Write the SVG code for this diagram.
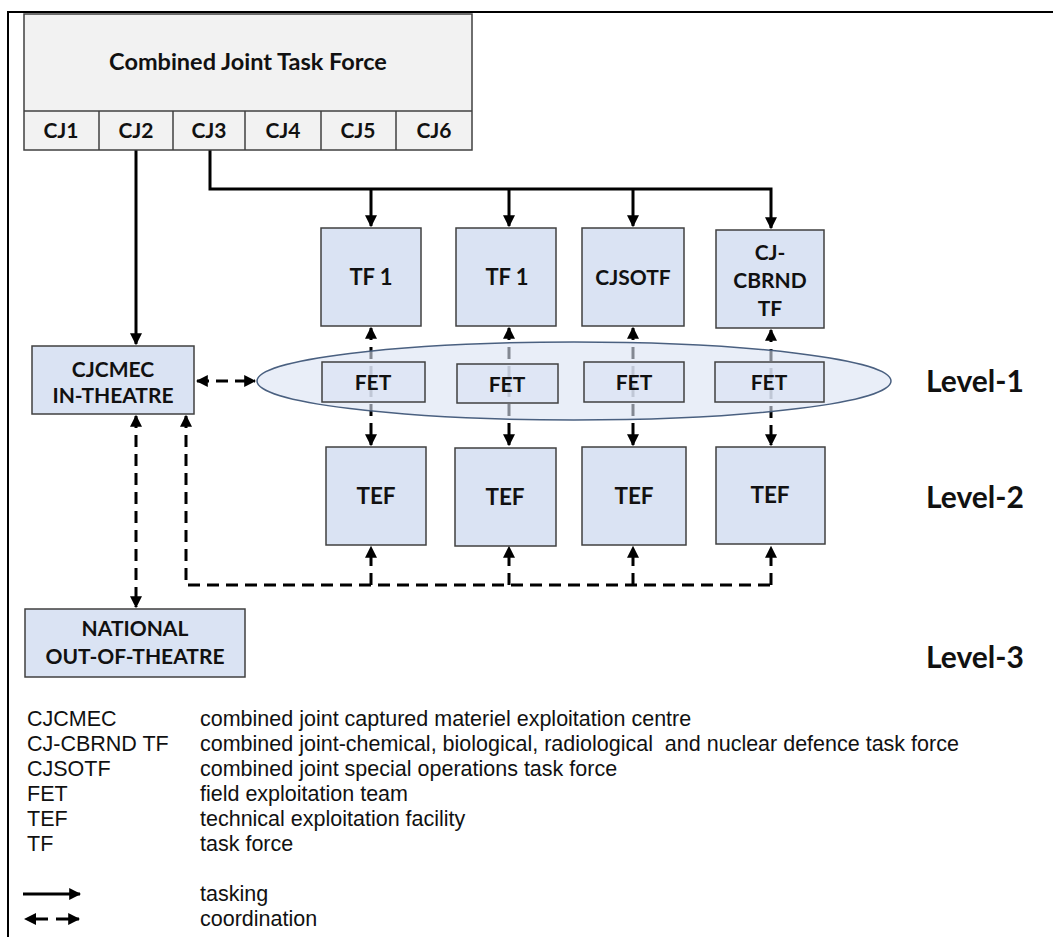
<svg xmlns="http://www.w3.org/2000/svg" width="1053" height="937" viewBox="0 0 1053 937">
<style>
.box{fill:#dae3f3;stroke:#404040;stroke-width:1.5}
.hq{fill:#f2f2f2;stroke:#404040;stroke-width:1.5}
.lbl{font-family:Lato,"Open Sans",sans-serif;font-weight:700;font-size:21px;fill:#111;text-anchor:middle}
.lvl{font-family:Lato,"Open Sans",sans-serif;font-weight:700;font-size:30px;fill:#111}
.leg{font-family:"Liberation Sans",Arial,sans-serif;font-size:21.5px;fill:#111}
.solid{fill:none;stroke:#000;stroke-width:3}
.dash{fill:none;stroke:#000;stroke-width:3;stroke-dasharray:12 7}
</style>
<defs>
<marker id="ah" viewBox="0 0 10 10" refX="9" refY="5" markerWidth="12" markerHeight="12" markerUnits="userSpaceOnUse" orient="auto-start-reverse">
<path d="M0,0 L10,5 L0,10 z" fill="#000"/>
</marker>
</defs>
<rect width="1053" height="937" fill="#fff"/>
<path d="M8,937 V12 H1053" fill="none" stroke="#000" stroke-width="2"/>

<g id="connectors">
<path class="solid" d="M136,150 V344" marker-end="url(#ah)"/>
<path class="solid" d="M210,150 V189 H771 V228" marker-end="url(#ah)"/>
<path class="solid" d="M371,189 V226" marker-end="url(#ah)"/>
<path class="solid" d="M509,189 V226" marker-end="url(#ah)"/>
<path class="solid" d="M633,189 V226" marker-end="url(#ah)"/>
<path class="dash" d="M371,328 V445" marker-start="url(#ah)" marker-end="url(#ah)"/>
<path class="dash" d="M509,328 V445" marker-start="url(#ah)" marker-end="url(#ah)"/>
<path class="dash" d="M633,328 V445" marker-start="url(#ah)" marker-end="url(#ah)"/>
<path class="dash" d="M771,330 V445" marker-start="url(#ah)" marker-end="url(#ah)"/>
<path class="dash" d="M197,381 H255" marker-start="url(#ah)" marker-end="url(#ah)"/>
<path class="dash" d="M136,416 V607" marker-start="url(#ah)" marker-end="url(#ah)"/>
<path class="dash" d="M186,416 V585 H771" marker-start="url(#ah)"/>
<path class="dash" d="M371,585 V547" marker-end="url(#ah)"/>
<path class="dash" d="M509,585 V547" marker-end="url(#ah)"/>
<path class="dash" d="M633,585 V547" marker-end="url(#ah)"/>
<path class="dash" d="M771,585 V547" marker-end="url(#ah)"/>
</g>

<g id="cjtf">
<rect class="hq" x="24" y="14" width="448" height="136"/>
<line x1="24" y1="111" x2="472" y2="111" stroke="#404040" stroke-width="1.5"/>
<line x1="99" y1="111" x2="99" y2="150" stroke="#404040" stroke-width="1.5"/>
<line x1="173" y1="111" x2="173" y2="150" stroke="#404040" stroke-width="1.5"/>
<line x1="245" y1="111" x2="245" y2="150" stroke="#404040" stroke-width="1.5"/>
<line x1="321" y1="111" x2="321" y2="150" stroke="#404040" stroke-width="1.5"/>
<line x1="396" y1="111" x2="396" y2="150" stroke="#404040" stroke-width="1.5"/>
<text class="lbl" x="248" y="70" style="font-size:23.5px">Combined Joint Task Force</text>
<text class="lbl" x="61" y="138">CJ1</text>
<text class="lbl" x="136" y="138">CJ2</text>
<text class="lbl" x="209" y="138">CJ3</text>
<text class="lbl" x="283" y="138">CJ4</text>
<text class="lbl" x="358" y="138">CJ5</text>
<text class="lbl" x="434" y="138">CJ6</text>
</g>

<g id="tf1a"><rect class="box" x="321" y="228" width="100" height="98"/><text class="lbl" x="371" y="285" style="font-size:22px">TF 1</text></g>
<g id="tf1b"><rect class="box" x="456" y="228" width="100" height="98"/><text class="lbl" x="507" y="285" style="font-size:22px">TF 1</text></g>
<g id="cjsotf"><rect class="box" x="582" y="228" width="102" height="98"/><text class="lbl" x="633" y="285">CJSOTF</text></g>
<g id="cbrnd"><rect class="box" x="716" y="230" width="108" height="98"/><text class="lbl" x="770" y="260">CJ-</text><text class="lbl" x="770" y="288">CBRND</text><text class="lbl" x="770" y="316">TF</text></g>

<g id="level1">
<ellipse cx="574" cy="381" rx="317" ry="39" fill="#dae3f3" fill-opacity="0.6" stroke="#4a6080" stroke-width="1.5"/>
</g>
<g id="fet1"><rect class="box" x="322" y="362" width="103" height="40" fill-opacity="0.7"/><text class="lbl" x="373" y="390">FET</text></g>
<g id="fet2"><rect class="box" x="457" y="364" width="101" height="39" fill-opacity="0.7"/><text class="lbl" x="507" y="392">FET</text></g>
<g id="fet3"><rect class="box" x="584" y="362" width="100" height="40" fill-opacity="0.7"/><text class="lbl" x="634" y="390">FET</text></g>
<g id="fet4"><rect class="box" x="715" y="362" width="109" height="40" fill-opacity="0.7"/><text class="lbl" x="769" y="390">FET</text></g>

<g id="tef1"><rect class="box" x="326" y="447" width="100" height="98"/><text class="lbl" x="376" y="504" style="font-size:22.5px">TEF</text></g>
<g id="tef2"><rect class="box" x="455" y="448" width="101" height="98"/><text class="lbl" x="505" y="505" style="font-size:22.5px">TEF</text></g>
<g id="tef3"><rect class="box" x="582" y="447" width="104" height="98"/><text class="lbl" x="634" y="504" style="font-size:22.5px">TEF</text></g>
<g id="tef4"><rect class="box" x="716" y="447" width="109" height="97"/><text class="lbl" x="770" y="503" style="font-size:22.5px">TEF</text></g>

<g id="cjcmec"><rect class="box" x="32" y="346" width="162" height="68"/><text class="lbl" x="113" y="377">CJCMEC</text><text class="lbl" x="113" y="403">IN-THEATRE</text></g>
<g id="national"><rect class="box" x="25" y="609" width="220" height="68"/><text class="lbl" x="135" y="636">NATIONAL</text><text class="lbl" x="135" y="664">OUT-OF-THEATRE</text></g>

<g id="levels">
<text class="lvl" x="926" y="392">Level-1</text>
<text class="lvl" x="926" y="508">Level-2</text>
<text class="lvl" x="926" y="668">Level-3</text>
</g>

<g id="legend">
<text class="leg" x="27" y="726">CJCMEC</text>
<text class="leg" x="27" y="751">CJ-CBRND TF</text>
<text class="leg" x="27" y="776">CJSOTF</text>
<text class="leg" x="27" y="801">FET</text>
<text class="leg" x="27" y="826">TEF</text>
<text class="leg" x="27" y="851">TF</text>
<text class="leg" x="200" y="726">combined joint captured materiel exploitation centre</text>
<text class="leg" x="200" y="751">combined joint-chemical, biological, radiological&#160; and nuclear defence task force</text>
<text class="leg" x="200" y="776">combined joint special operations task force</text>
<text class="leg" x="200" y="801">field exploitation team</text>
<text class="leg" x="200" y="826">technical exploitation facility</text>
<text class="leg" x="200" y="851">task force</text>
<path class="solid" d="M23,894 H80" stroke-width="4" marker-end="url(#ah)"/>
<path class="solid" d="M30,919 H48 M56,919 H79" stroke-width="4" marker-end="url(#ah)"/>
<path d="M24,919 L36,913 L36,925 z" fill="#000"/>
<text class="leg" x="200" y="901">tasking</text>
<text class="leg" x="200" y="926">coordination</text>
</g>
</svg>
